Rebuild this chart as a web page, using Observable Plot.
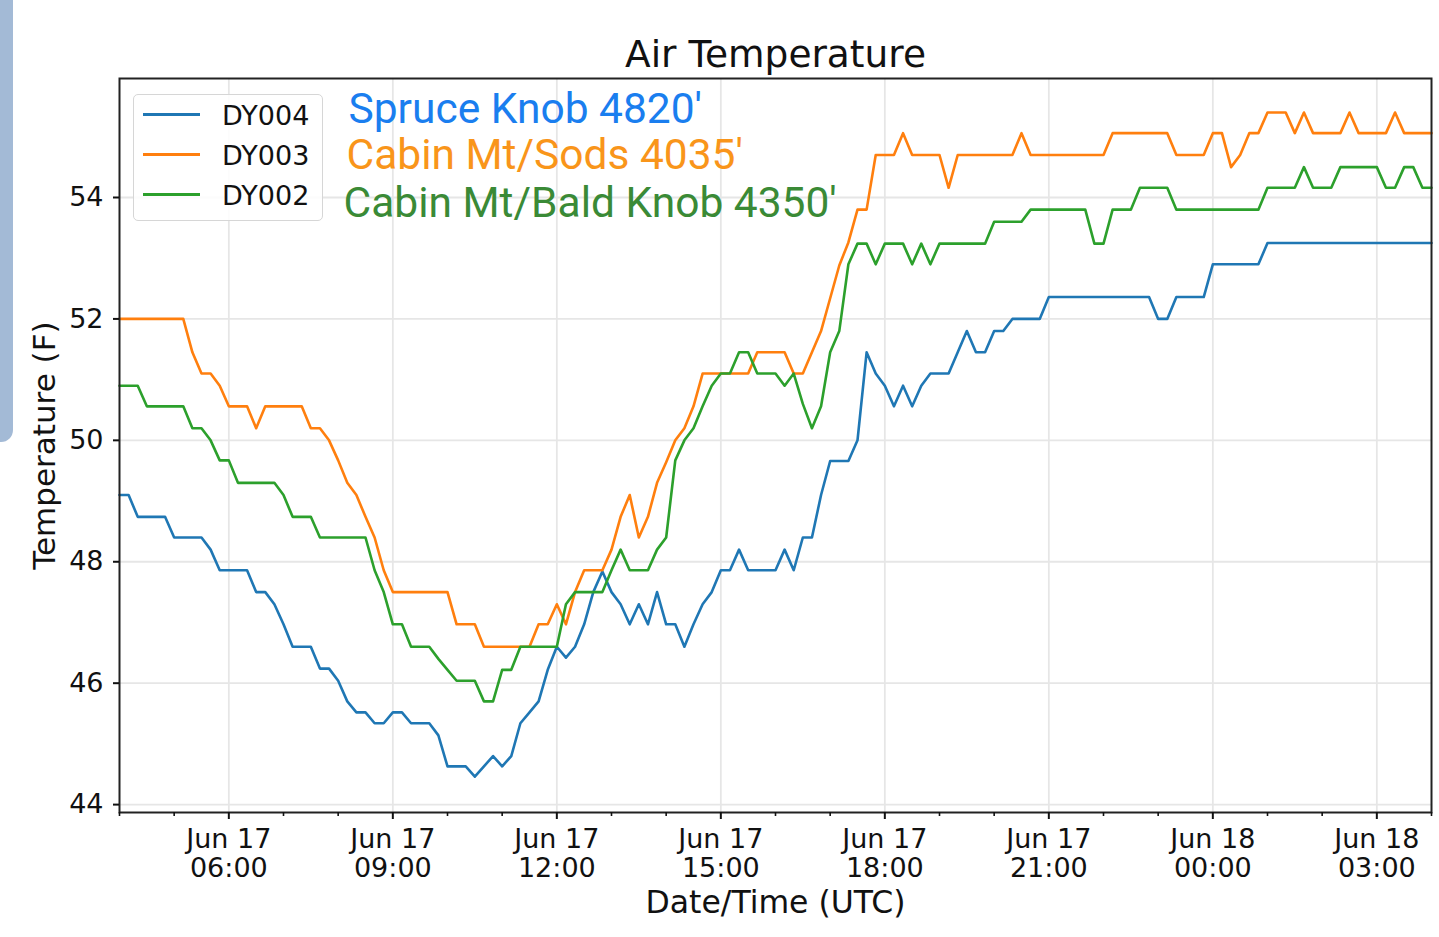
<!DOCTYPE html>
<html>
<head>
<meta charset="utf-8">
<script src="https://cdn.jsdelivr.net/npm/d3@7"></script>
<script src="https://cdn.jsdelivr.net/npm/@observablehq/plot@0.6"></script>
<style>
  html, body { margin: 0; padding: 0; background: #fff; }
  #wrap { position: relative; width: 1439px; height: 937px; overflow: hidden; background: #fff; }
  #wrap svg { position: absolute; left: 0; top: 0; }
  .edge { position: absolute; left: 0; top: 0; width: 13px; height: 442px; background: #a3bad6; border-bottom-right-radius: 12px; }
  .legend-box { position: absolute; left: 133px; top: 94px; width: 190px; height: 127px; box-sizing: border-box;
    border: 1.5px solid #d6d6d6; border-radius: 5px; background: rgba(255,255,255,0.85); }
  .legend-swatch { position: absolute; left: 143px; width: 57px; height: 2.6px; }
  .legend-label { position: absolute; left: 222px; font-family: "DejaVu Sans"; font-size: 27px; line-height: 27px; color: #111; white-space: nowrap; }
</style>
</head>
<body>
<div id="wrap"><div class="edge"></div></div>
<script>
// ---- data (Air temperature, °F, 10-minute samples from Jun 17 04:00 UTC) ----
const seriesNames = ["DY004", "DY003", "DY002"];
const seriesColors = ["#1f77b4", "#ff7f0e", "#2ca02c"];
const stationNames = ["Spruce Knob 4820'", "Cabin Mt/Sods 4035'", "Cabin Mt/Bald Knob 4350'"];
const stationColors = ["#1a7eef", "#f9951a", "#3a8a36"];
const startTime = "2019-06-17T04:00:00Z";
const endTime = "2019-06-18T04:00:00Z";
const stepMinutes = 10;

const dy004 = [
  49.1,49.1,48.74,48.74,48.74,48.74,48.4,48.4,48.4,48.4,48.2,47.86,
  47.86,47.86,47.86,47.5,47.5,47.3,46.97,46.6,46.6,46.6,46.24,46.24,
  46.04,45.7,45.52,45.52,45.34,45.34,45.52,45.52,45.34,45.34,45.34,45.14,
  44.63,44.63,44.63,44.46,44.63,44.8,44.63,44.8,45.34,45.52,45.7,46.22,
  46.6,46.42,46.6,46.97,47.5,47.84,47.5,47.3,46.97,47.3,46.97,47.5,
  46.97,46.97,46.6,46.97,47.3,47.5,47.86,47.86,48.2,47.86,47.86,47.86,
  47.86,48.2,47.86,48.4,48.4,49.1,49.66,49.66,49.66,50.0,51.45,51.1,
  50.9,50.56,50.9,50.56,50.9,51.1,51.1,51.1,51.45,51.8,51.45,51.45,
  51.8,51.8,52.0,52.0,52.0,52.0,52.36,52.36,52.36,52.36,52.36,52.36,
  52.36,52.36,52.36,52.36,52.36,52.36,52.0,52.0,52.36,52.36,52.36,52.36,
  52.9,52.9,52.9,52.9,52.9,52.9,53.25,53.25,53.25,53.25,53.25,53.25,
  53.25,53.25,53.25,53.25,53.25,53.25,53.25,53.25,53.25,53.25,53.25,53.25,
  53.25
];
const dy003 = [
  52.0,52.0,52.0,52.0,52.0,52.0,52.0,52.0,51.45,51.1,51.1,50.9,
  50.56,50.56,50.56,50.2,50.56,50.56,50.56,50.56,50.56,50.2,50.2,50.0,
  49.67,49.3,49.1,48.74,48.4,47.86,47.5,47.5,47.5,47.5,47.5,47.5,
  47.5,46.97,46.97,46.97,46.6,46.6,46.6,46.6,46.6,46.6,46.97,46.97,
  47.3,46.97,47.5,47.86,47.86,47.86,48.2,48.74,49.1,48.4,48.74,49.3,
  49.64,50.0,50.2,50.56,51.1,51.1,51.1,51.1,51.1,51.1,51.45,51.45,
  51.45,51.45,51.1,51.1,51.45,51.8,52.34,52.88,53.26,53.8,53.8,54.7,
  54.7,54.7,55.06,54.7,54.7,54.7,54.7,54.16,54.7,54.7,54.7,54.7,
  54.7,54.7,54.7,55.06,54.7,54.7,54.7,54.7,54.7,54.7,54.7,54.7,
  54.7,55.06,55.06,55.06,55.06,55.06,55.06,55.06,54.7,54.7,54.7,54.7,
  55.06,55.06,54.5,54.7,55.06,55.06,55.4,55.4,55.4,55.06,55.4,55.06,
  55.06,55.06,55.06,55.4,55.06,55.06,55.06,55.06,55.4,55.06,55.06,55.06,
  55.06
];
const dy002 = [
  50.9,50.9,50.9,50.56,50.56,50.56,50.56,50.56,50.2,50.2,50.0,49.67,
  49.67,49.3,49.3,49.3,49.3,49.3,49.1,48.74,48.74,48.74,48.4,48.4,
  48.4,48.4,48.4,48.4,47.86,47.5,46.97,46.97,46.6,46.6,46.6,46.4,
  46.22,46.04,46.04,46.04,45.7,45.7,46.22,46.22,46.6,46.6,46.6,46.6,
  46.6,47.3,47.5,47.5,47.5,47.5,47.86,48.2,47.86,47.86,47.86,48.2,
  48.4,49.67,50.0,50.2,50.56,50.9,51.1,51.1,51.45,51.45,51.1,51.1,
  51.1,50.9,51.1,50.6,50.2,50.56,51.45,51.8,52.9,53.24,53.24,52.9,
  53.24,53.24,53.24,52.9,53.24,52.9,53.24,53.24,53.24,53.24,53.24,53.24,
  53.6,53.6,53.6,53.6,53.8,53.8,53.8,53.8,53.8,53.8,53.8,53.24,
  53.24,53.8,53.8,53.8,54.16,54.16,54.16,54.16,53.8,53.8,53.8,53.8,
  53.8,53.8,53.8,53.8,53.8,53.8,54.16,54.16,54.16,54.16,54.5,54.16,
  54.16,54.16,54.5,54.5,54.5,54.5,54.5,54.16,54.16,54.5,54.5,54.16,
  54.16
];
const seriesValues = [dy004, dy003, dy002];
const yTicks = [44, 46, 48, 50, 52, 54];
const yDomain = [43.87, 55.96];
const titleText = "Air Temperature";
const xLabel = "Date/Time (UTC)";
const yLabel = "Temperature (F)";

// ---- build table ----
const t0 = new Date(startTime);
const t1 = new Date(endTime);
const times = dy004.map((_, i) => new Date(t0.getTime() + i * stepMinutes * 60000));
const rows = seriesNames.flatMap((name, k) =>
  seriesValues[k].map((v, i) => ({ time: times[i], value: v, series: name })));

const majorTicks = d3.utcHour.every(3).range(d3.utcHour.offset(t0, 2), t1);
const minorTicks = d3.utcHour.range(t0, new Date(t1.getTime() + 1))
  .filter(d => d.getUTCHours() % 3 !== 0);
const fmt = d3.utcFormat("%b %d\n%H:%M");

const annot = (k, dx, dy) => Plot.text([stationNames[k]], {
  frameAnchor: "top-left", textAnchor: "start", lineAnchor: "middle",
  dx, dy, fontSize: 42.5, fontFamily: "Roboto", fill: stationColors[k]
});

const chart = Plot.plot({
  width: 1439,
  height: 937,
  marginLeft: 119,
  marginRight: 8,
  marginTop: 78,
  marginBottom: 125,
  style: { fontFamily: "DejaVu Sans", fontSize: "27px", color: "#111", background: "transparent", overflow: "visible" },
  x: { type: "utc", domain: [t0, t1] },
  y: { domain: yDomain },
  color: { domain: seriesNames, range: seriesColors },
  marks: [
    Plot.gridX(majorTicks, { stroke: "#e6e6e6", strokeOpacity: 1, strokeWidth: 1.8 }),
    Plot.gridY(yTicks, { stroke: "#e6e6e6", strokeOpacity: 1, strokeWidth: 1.8 }),
    Plot.line(rows, { x: "time", y: "value", stroke: "series", strokeWidth: 2.6, strokeLinejoin: "round" }),
    Plot.frame({ stroke: "#222", strokeWidth: 2 }),
    Plot.axisY(yTicks, { tickSize: 6, tickPadding: 10, strokeWidth: 2, tickFormat: d3.format("d"), label: null }),
    Plot.axisX(majorTicks, { tickSize: 7, tickPadding: 8, strokeWidth: 2, tickFormat: fmt, lineHeight: 1.08, label: null }),
    Plot.axisX(minorTicks, { tickSize: 4, strokeWidth: 1.6, tickFormat: () => "", label: null }),
    Plot.text([titleText], { frameAnchor: "top", lineAnchor: "middle", textAnchor: "middle", dy: -23.3, fontSize: 37.5, fill: "#111" }),
    Plot.text([xLabel], { frameAnchor: "bottom", lineAnchor: "middle", textAnchor: "middle", dy: 90, fontSize: 31.5, fill: "#111" }),
    Plot.text([yLabel], { frameAnchor: "left", lineAnchor: "middle", textAnchor: "middle", dx: -74, rotate: -90, fontSize: 31, fill: "#111" }),
    annot(0, 229, 30.4),
    annot(1, 227, 76.4),
    annot(2, 224, 125.1)
  ]
});

const wrap = document.getElementById("wrap");
wrap.appendChild(chart);

// ---- legend (overlay, upper-left inside the axes) ----
const color = chart.scale("color");
const box = document.createElement("div");
box.className = "legend-box";
wrap.appendChild(box);
const swatchY = [114.3, 154.3, 194.3];
const labelTop = [101.5, 141.5, 181.5];
seriesNames.forEach((name, k) => {
  const sw = document.createElement("div");
  sw.className = "legend-swatch";
  sw.style.top = (swatchY[k] - 1.3) + "px";
  sw.style.background = color.apply(name);
  wrap.appendChild(sw);
  const lb = document.createElement("div");
  lb.className = "legend-label";
  lb.style.top = labelTop[k] + "px";
  lb.textContent = name;
  wrap.appendChild(lb);
});
</script>
</body>
</html>
